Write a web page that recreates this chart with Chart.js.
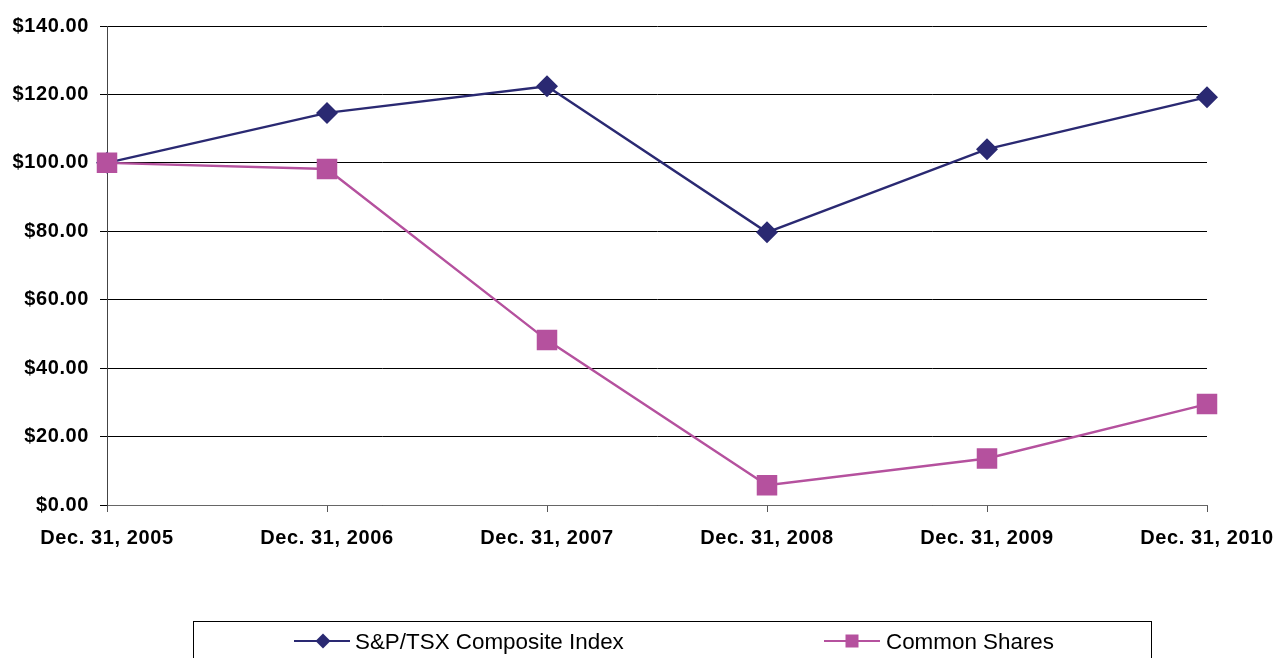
<!DOCTYPE html>
<html>
<head>
<meta charset="utf-8">
<script src="https://cdn.jsdelivr.net/npm/chart.js@4/dist/chart.umd.min.js"></script>
<style>
html,body{margin:0;padding:0;background:#fff;}
#wrap{width:1277px;height:658px;position:relative;}
</style>
</head>
<body>
<div id="wrap"><canvas id="c" width="1277" height="658"></canvas></div>
<script>
const categories = ['Dec. 31, 2005','Dec. 31, 2006','Dec. 31, 2007','Dec. 31, 2008','Dec. 31, 2009','Dec. 31, 2010'];
const sptsxValues = [100, 114.6, 122.4, 79.7, 104.0, 119.2];
const commonValues = [100, 98.2, 48.2, 5.8, 13.6, 29.5];
const seriesNames = ['S&P/TSX Composite Index', 'Common Shares'];
const yTickMin = 0, yTickMax = 140, yTickStep = 20;

const navy = '#2A2972';
const pink = '#B5519E';

const legendPlugin = {
  id: 'boxLegend',
  afterDraw(chart) {
    const ctx = chart.ctx;
    ctx.save();
    ctx.letterSpacing = '0px';
    ctx.strokeStyle = '#000';
    ctx.lineWidth = 1;
    ctx.strokeRect(193.5, 621.5, 958, 60);
    const items = [
      {x0: 294, x1: 350, cx: 323, tx: 355, color: navy, shape: 'diamond', label: seriesNames[0]},
      {x0: 824, x1: 880, cx: 852, tx: 886, color: pink, shape: 'square', label: seriesNames[1]}
    ];
    const y = 641;
    items.forEach(it => {
      ctx.strokeStyle = it.color;
      ctx.lineWidth = 2.2;
      ctx.beginPath();
      ctx.moveTo(it.x0, y);
      ctx.lineTo(it.x1, y);
      ctx.stroke();
      ctx.fillStyle = it.color;
      ctx.beginPath();
      if (it.shape === 'diamond') {
        const r = 7.5;
        ctx.moveTo(it.cx - r, y); ctx.lineTo(it.cx, y - r);
        ctx.lineTo(it.cx + r, y); ctx.lineTo(it.cx, y + r);
        ctx.closePath();
      } else {
        ctx.rect(it.cx - 6.5, y - 6.5, 13, 13);
      }
      ctx.fill();
      ctx.fillStyle = '#000';
      ctx.font = '22.4px "Liberation Sans", Arial, sans-serif';
      ctx.textBaseline = 'middle';
      ctx.textAlign = 'left';
      ctx.fillText(it.label, it.tx, y + 2);
    });
    ctx.restore();
  }
};

const spacingPlugin = {
  id: 'spacing',
  beforeDraw(chart) { chart.ctx.letterSpacing = '0.6px'; }
};

new Chart(document.getElementById('c'), {
  type: 'line',
  data: {
    labels: categories,
    datasets: [
      {
        label: seriesNames[0],
        data: sptsxValues,
        order: 1,
        borderColor: navy,
        backgroundColor: navy,
        borderWidth: 2.4,
        pointStyle: 'rectRot',
        pointRadius: 11,
        pointHoverRadius: 11,
        pointBorderWidth: 0,
        tension: 0
      },
      {
        label: seriesNames[1],
        data: commonValues,
        order: 0,
        borderColor: pink,
        backgroundColor: pink,
        borderWidth: 2.4,
        pointStyle: 'rect',
        pointRadius: 14.5,
        pointHoverRadius: 14.5,
        pointBorderWidth: 0,
        tension: 0
      }
    ]
  },
  options: {
    responsive: false,
    animation: false,
    events: [],
    layout: { padding: { top: 26, right: 70, bottom: 103, left: 0 } },
    plugins: { legend: { display: false }, tooltip: { enabled: false } },
    scales: {
      x: {
        offset: false,
        afterFit(s) { s.height = 50; s.paddingLeft = 0; s.paddingRight = 0; },
        grid: { drawOnChartArea: false, drawTicks: true, tickLength: 7, color: '#555', lineWidth: 1 },
        border: { display: true, color: '#666', width: 1 },
        ticks: {
          color: '#000', padding: 14, maxRotation: 0, autoSkip: false,
          font: { family: '"Liberation Sans", Arial, sans-serif', size: 20, weight: 'bold' }
        }
      },
      y: {
        min: yTickMin, max: yTickMax,
        afterFit(s) { s.width = 107; s.paddingTop = 0; s.paddingBottom = 0; },
        grid: { drawOnChartArea: true, drawTicks: true, tickLength: 7, color: '#000', lineWidth: 1 },
        border: { display: true, color: '#444', width: 1 },
        ticks: {
          stepSize: yTickStep, color: '#000', padding: 11,
          font: { family: '"Liberation Sans", Arial, sans-serif', size: 20, weight: 'bold' },
          callback: v => '$' + Number(v).toFixed(2)
        }
      }
    }
  },
  plugins: [spacingPlugin, legendPlugin]
});
</script>
</body>
</html>
